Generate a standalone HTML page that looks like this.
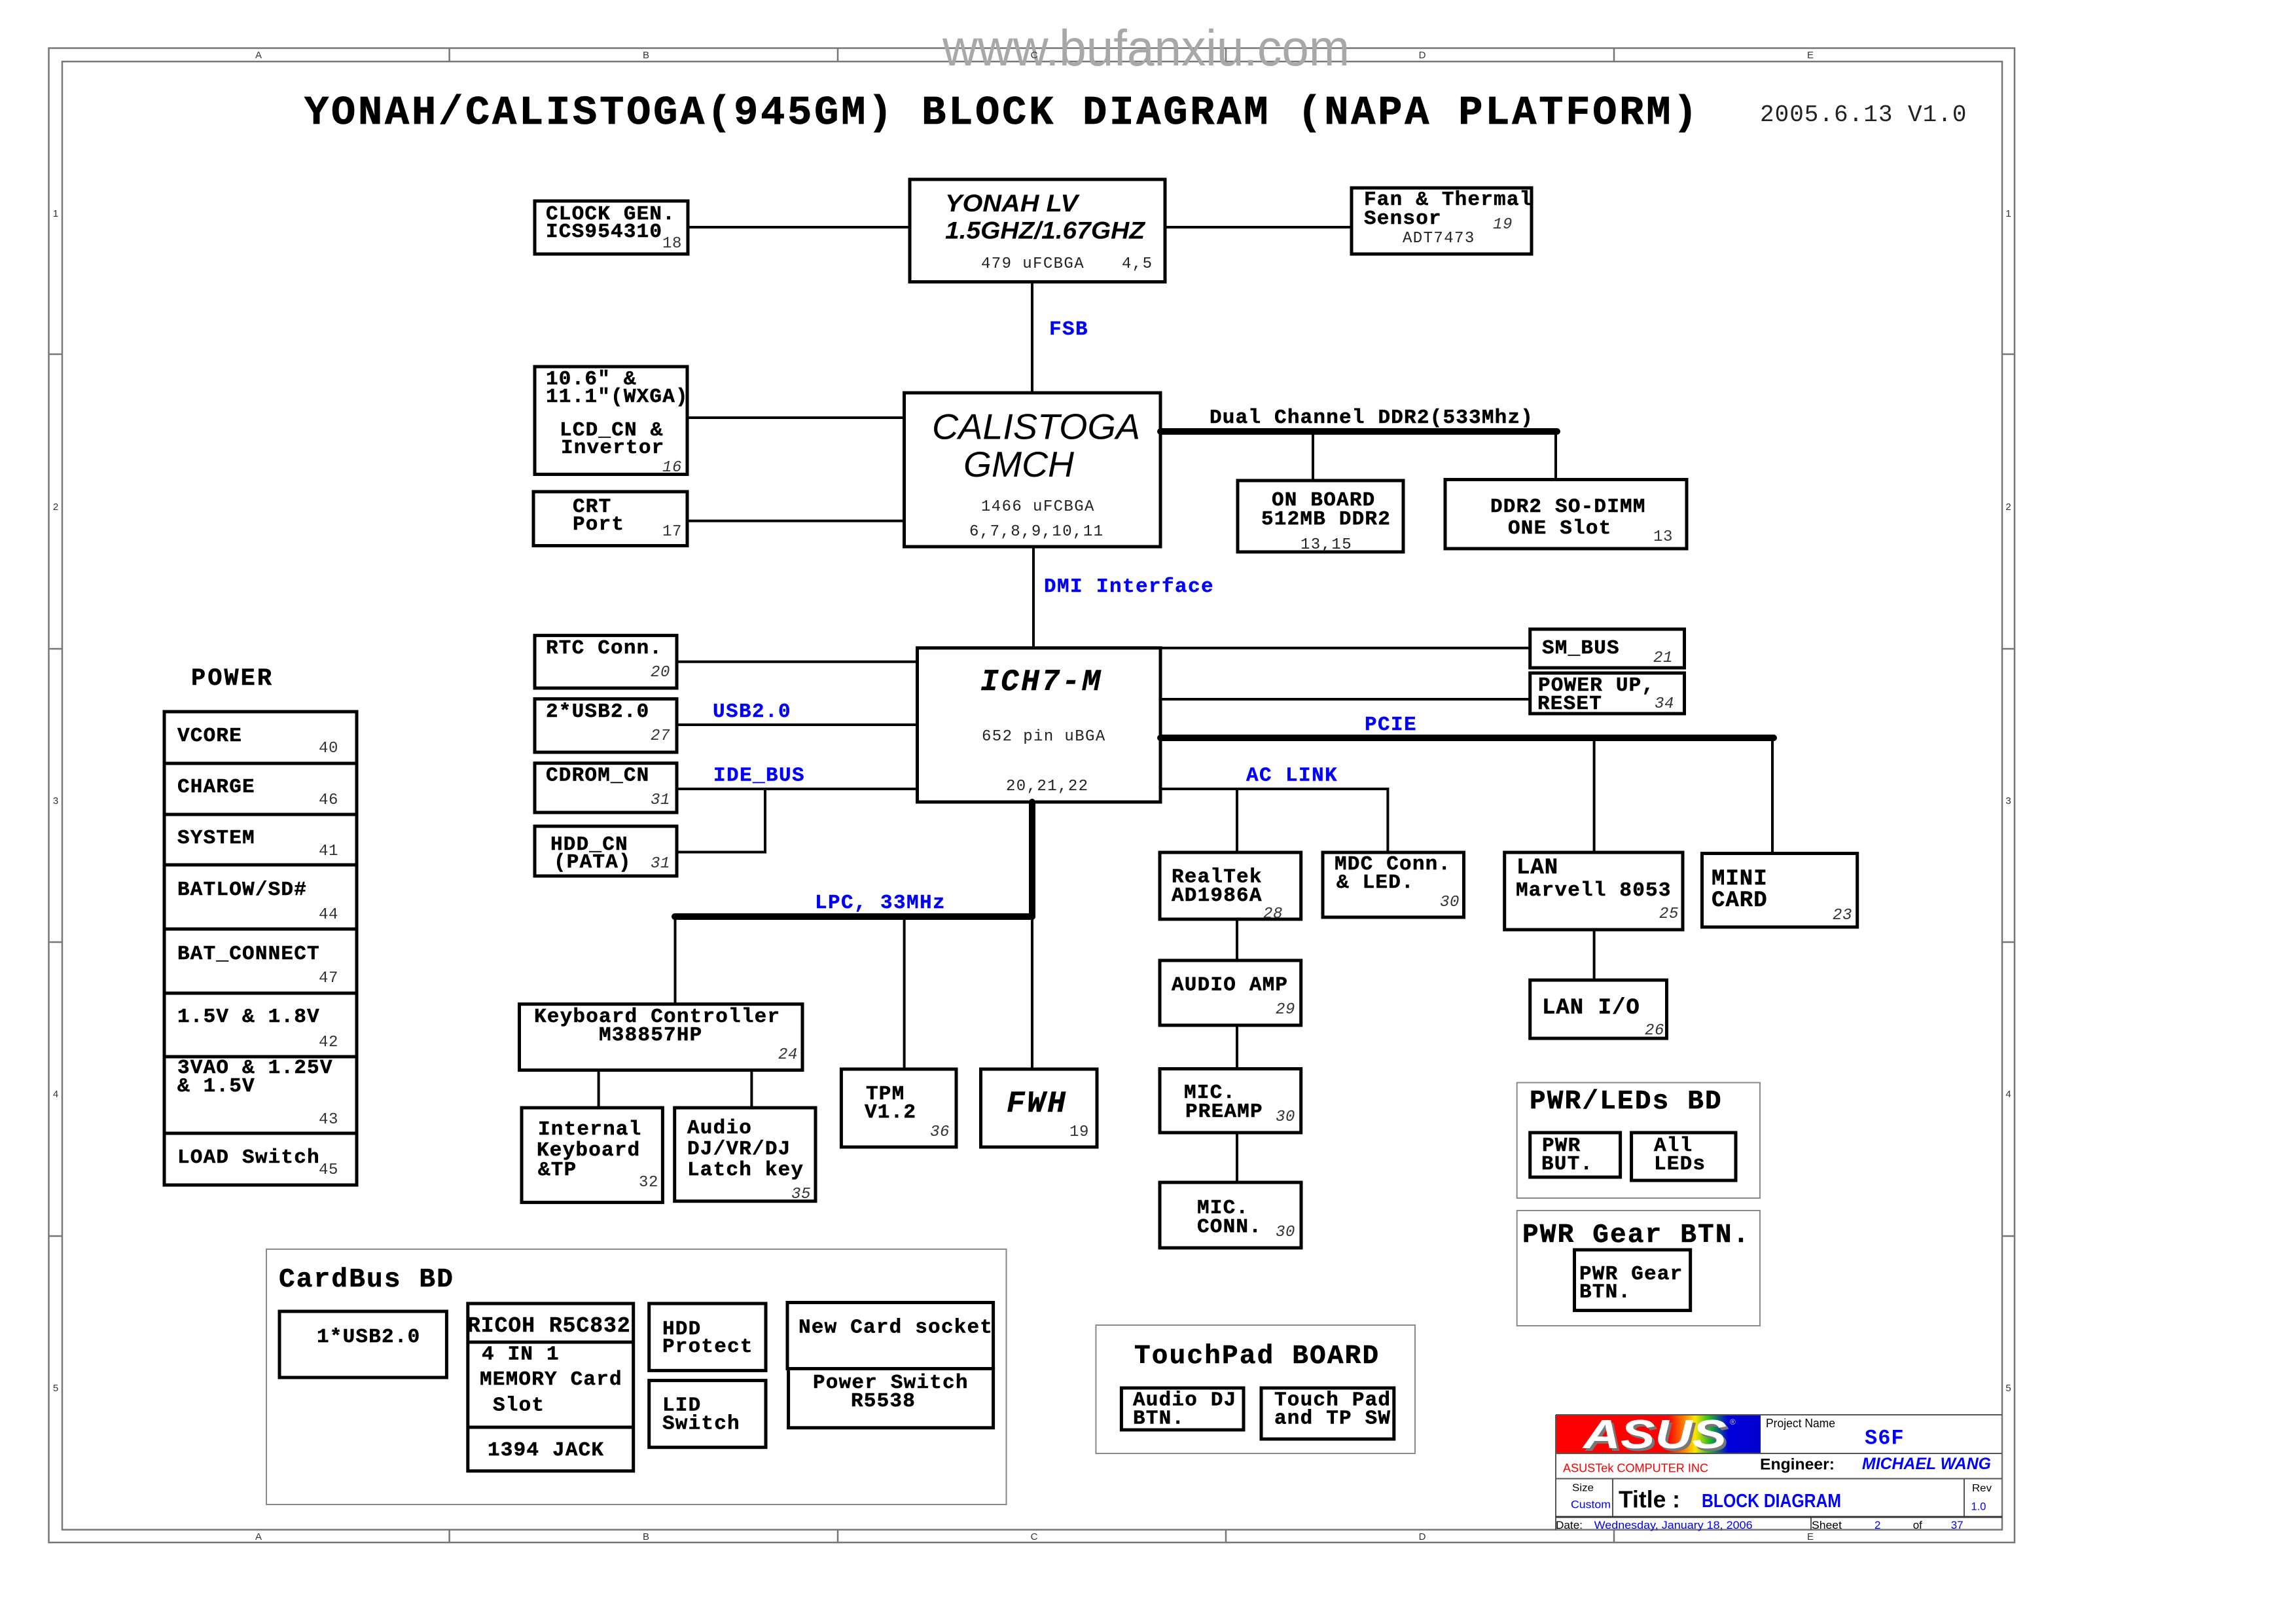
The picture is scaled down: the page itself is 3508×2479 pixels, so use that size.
<!DOCTYPE html>
<html>
<head>
<meta charset="utf-8">
<style>
html,body{margin:0;padding:0;background:#fff;}
svg{display:block;}
.t{font-family:"Liberation Mono",monospace;font-weight:bold;font-size:31px;letter-spacing:1.2px;fill:#000;stroke:#000;stroke-width:0.5px;}
.t2{font-family:"Liberation Mono",monospace;font-weight:bold;font-size:34px;letter-spacing:1px;fill:#000;stroke:#000;stroke-width:0.5px;}
.r33{font-family:"Liberation Mono",monospace;font-weight:bold;font-size:33px;letter-spacing:1px;fill:#000;stroke:#000;stroke-width:0.5px;}
.sm{font-family:"Liberation Mono",monospace;font-size:24px;letter-spacing:1.4px;fill:#222;}
.pg{font-family:"Liberation Mono",monospace;font-size:24px;letter-spacing:0.6px;fill:#333;}
.pgi{font-family:"Liberation Mono",monospace;font-style:italic;font-size:24px;letter-spacing:0.6px;fill:#333;}
.bl{font-family:"Liberation Mono",monospace;font-weight:bold;font-size:31px;letter-spacing:1.4px;fill:#0000ff;stroke:#0000ff;stroke-width:0.4px;}
.grp{font-family:"Liberation Mono",monospace;font-weight:bold;font-size:41px;letter-spacing:2.2px;fill:#000;stroke:#000;stroke-width:0.6px;}
.ttl{font-family:"Liberation Mono",monospace;font-weight:bold;font-size:62px;letter-spacing:3.8px;fill:#000;stroke:#000;stroke-width:0.8px;}
.bi{font-family:"Liberation Mono",monospace;font-weight:bold;font-style:italic;font-size:46px;letter-spacing:3.5px;fill:#000;stroke:#000;stroke-width:0.5px;}
.lab{font-family:"Liberation Sans",sans-serif;font-size:15px;fill:#333;text-anchor:middle;}
.sans{font-family:"Liberation Sans",sans-serif;}
</style>
</head>
<body>
<svg width="3508" height="2479" viewBox="0 0 3508 2479" xmlns="http://www.w3.org/2000/svg">
<defs>
<linearGradient id="lg" x1="0" x2="1" y1="0" y2="0">
<stop offset="0" stop-color="#ff0000"/>
<stop offset="0.55" stop-color="#ff0000"/>
<stop offset="0.63" stop-color="#ff8800"/>
<stop offset="0.68" stop-color="#ffe600"/>
<stop offset="0.75" stop-color="#22bb22"/>
<stop offset="0.84" stop-color="#0000dd"/>
<stop offset="1" stop-color="#0000cc"/>
</linearGradient>
</defs>
<rect x="0" y="0" width="3508" height="2479" fill="#fff"/>

<!-- Frame -->
<g stroke="#777" stroke-width="2.5" fill="none">
<rect x="74.5" y="73.5" width="3003.5" height="2282.5"/>
<rect x="95" y="94" width="2964" height="2242.5"/>
<line x1="686.6" y1="73.5" x2="686.6" y2="94"/>
<line x1="1280" y1="73.5" x2="1280" y2="94"/>
<line x1="1873" y1="73.5" x2="1873" y2="94"/>
<line x1="2466" y1="73.5" x2="2466" y2="94"/>
<line x1="686.6" y1="2336.5" x2="686.6" y2="2356"/>
<line x1="1280" y1="2336.5" x2="1280" y2="2356"/>
<line x1="1873" y1="2336.5" x2="1873" y2="2356"/>
<line x1="2466" y1="2336.5" x2="2466" y2="2356"/>
<line x1="74.5" y1="541" x2="95" y2="541"/>
<line x1="74.5" y1="991" x2="95" y2="991"/>
<line x1="74.5" y1="1439" x2="95" y2="1439"/>
<line x1="74.5" y1="1888" x2="95" y2="1888"/>
<line x1="3059" y1="541" x2="3078" y2="541"/>
<line x1="3059" y1="991" x2="3078" y2="991"/>
<line x1="3059" y1="1439" x2="3078" y2="1439"/>
<line x1="3059" y1="1888" x2="3078" y2="1888"/>
</g>

<!-- watermark -->
<text x="1440" y="100" class="sans" font-size="78" fill="#a8a8a8" textLength="622" lengthAdjust="spacingAndGlyphs">www.bufanxiu.com</text>

<!-- column/row labels -->
<g class="lab">
<text x="395" y="89">A</text><text x="987" y="89">B</text><text x="1580" y="89">C</text><text x="2173" y="89">D</text><text x="2766" y="89">E</text>
<text x="395" y="2352">A</text><text x="987" y="2352">B</text><text x="1580" y="2352">C</text><text x="2173" y="2352">D</text><text x="2766" y="2352">E</text>
<text x="85" y="331">1</text><text x="85" y="779">2</text><text x="85" y="1228">3</text><text x="85" y="1676">4</text><text x="85" y="2125">5</text>
<text x="3068.5" y="331">1</text><text x="3068.5" y="779">2</text><text x="3068.5" y="1228">3</text><text x="3068.5" y="1676">4</text><text x="3068.5" y="2125">5</text>
</g>

<!-- Title -->
<text x="465" y="189" class="ttl">YONAH/CALISTOGA(945GM) BLOCK DIAGRAM (NAPA PLATFORM)</text>
<text x="2689" y="185" font-family="Liberation Mono, monospace" font-size="36" letter-spacing="1" fill="#222">2005.6.13 V1.0</text>

<!-- Connector lines (thin) -->
<g stroke="#000" stroke-width="4" fill="none">
<line x1="1051" y1="347" x2="1390" y2="347"/>
<line x1="1780" y1="347" x2="2065" y2="347"/>
<line x1="1577" y1="430.5" x2="1577" y2="600"/>
<line x1="1050" y1="638" x2="1381.5" y2="638"/>
<line x1="1050" y1="795.6" x2="1381.5" y2="795.6"/>
<line x1="2006" y1="659" x2="2006" y2="734"/>
<line x1="2377" y1="659" x2="2377" y2="732.5"/>
<line x1="1579" y1="835" x2="1579" y2="989.7"/>
<line x1="1034" y1="1010.7" x2="1401.5" y2="1010.7"/>
<line x1="1034" y1="1107" x2="1401.5" y2="1107"/>
<line x1="1034" y1="1205" x2="1401.5" y2="1205"/>
<polyline points="1034,1301.5 1169,1301.5 1169,1205"/>
<line x1="1031.5" y1="1400" x2="1031.5" y2="1533.7"/>
<line x1="914.6" y1="1634.5" x2="914.6" y2="1692"/>
<line x1="1148.4" y1="1634.5" x2="1148.4" y2="1692"/>
<line x1="1381.6" y1="1400" x2="1381.6" y2="1633"/>
<line x1="1577" y1="1400" x2="1577" y2="1633"/>
<line x1="1773" y1="989.7" x2="2337.7" y2="989.7"/>
<line x1="1773" y1="1068" x2="2337.7" y2="1068"/>
<polyline points="1773,1205 2120.4,1205 2120.4,1302"/>
<line x1="1890" y1="1205" x2="1890" y2="1302"/>
<line x1="1890" y1="1404" x2="1890" y2="1467"/>
<line x1="1890" y1="1566" x2="1890" y2="1632.5"/>
<line x1="1890" y1="1730" x2="1890" y2="1806"/>
<line x1="2435.6" y1="1127" x2="2435.6" y2="1302"/>
<line x1="2708" y1="1127" x2="2708" y2="1303.5"/>
<line x1="2435.6" y1="1420" x2="2435.6" y2="1497"/>
</g>

<!-- Thick buses -->
<g stroke="#000" stroke-width="10" stroke-linecap="round" fill="none">
<line x1="1773" y1="659" x2="2379" y2="659"/>
<line x1="1773" y1="1127" x2="2710" y2="1127"/>
<line x1="1031" y1="1400" x2="1577" y2="1400"/>
<line x1="1577" y1="1225" x2="1577" y2="1400"/>
</g>

<!-- Boxes -->
<g stroke="#000" stroke-width="5" fill="none">
<rect x="817" y="307" width="234" height="81"/>
<rect x="1390" y="274" width="390" height="156.5"/>
<rect x="2065" y="287" width="275" height="101"/>
<rect x="817" y="560" width="233" height="164.5"/>
<rect x="815" y="751" width="235" height="82.5"/>
<rect x="1381.5" y="600" width="391.5" height="235"/>
<rect x="1891" y="734" width="253" height="109"/>
<rect x="2208" y="732.5" width="369" height="105.5"/>
<rect x="1401.5" y="989.7" width="371.5" height="235.3"/>
<rect x="817" y="970.6" width="217" height="80.4"/>
<rect x="817" y="1067.5" width="217" height="81.5"/>
<rect x="817" y="1165.7" width="217" height="75.3"/>
<rect x="817" y="1262" width="217" height="76"/>
<rect x="793.5" y="1533.7" width="432.5" height="100.8"/>
<rect x="797" y="1692" width="215.4" height="144.6"/>
<rect x="1030.7" y="1692" width="215.3" height="142.7"/>
<rect x="1285.4" y="1633" width="175.6" height="119"/>
<rect x="1498.5" y="1633" width="177.5" height="119"/>
<rect x="2337.7" y="961" width="235.8" height="59"/>
<rect x="2337.7" y="1028" width="235.8" height="62"/>
<rect x="1772" y="1302" width="215.7" height="102"/>
<rect x="2021" y="1302" width="215.5" height="99"/>
<rect x="1772" y="1467" width="215.7" height="99"/>
<rect x="1772" y="1632.5" width="215.7" height="97.5"/>
<rect x="1772" y="1806" width="216" height="100"/>
<rect x="2298.7" y="1302" width="272.3" height="118"/>
<rect x="2600.5" y="1303.5" width="237.2" height="112.5"/>
<rect x="2337.7" y="1497" width="208.8" height="89"/>
<rect x="2337.7" y="1730" width="137.9" height="68"/>
<rect x="2492.6" y="1730" width="159.4" height="73"/>
<rect x="2405.5" y="1909" width="177.2" height="92.6"/>
<!-- power table -->
<rect x="251" y="1087" width="294" height="723"/>
<line x1="251" y1="1166" x2="545" y2="1166"/>
<line x1="251" y1="1244" x2="545" y2="1244"/>
<line x1="251" y1="1321" x2="545" y2="1321"/>
<line x1="251" y1="1419" x2="545" y2="1419"/>
<line x1="251" y1="1517" x2="545" y2="1517"/>
<line x1="251" y1="1614" x2="545" y2="1614"/>
<line x1="251" y1="1731" x2="545" y2="1731"/>
<!-- cardbus -->
<rect x="427" y="2003" width="255.4" height="101"/>
<rect x="714.8" y="1991" width="252.9" height="255.8"/>
<line x1="714.8" y1="2050" x2="967.7" y2="2050"/>
<line x1="714.8" y1="2180" x2="967.7" y2="2180"/>
<rect x="991.7" y="1991" width="178.3" height="102.4"/>
<rect x="991.7" y="2108.6" width="178.3" height="102.1"/>
<rect x="1203" y="1989.5" width="314.6" height="101"/>
<rect x="1204.6" y="2090.5" width="313" height="90.3"/>
<!-- touchpad -->
<rect x="1713.4" y="2120" width="186.6" height="64"/>
<rect x="1927" y="2120" width="202.8" height="78"/>
</g>

<!-- Group boxes (thin gray) -->
<g stroke="#8a8a8a" stroke-width="2" fill="none">
<rect x="2317.7" y="1653.6" width="371.3" height="176.4"/>
<rect x="2317.7" y="1849" width="371.3" height="176"/>
<rect x="407" y="1908" width="1130.5" height="390"/>
<rect x="1674.4" y="2024" width="487.6" height="196"/>
</g>

<!-- Texts: top area -->
<text x="834" y="335" class="t">CLOCK GEN.</text>
<text x="834" y="362" class="t">ICS954310</text>
<text x="1012" y="378" class="pg">18</text>

<text x="1444" y="323" class="sans" font-size="37" font-weight="bold" font-style="italic" textLength="203" lengthAdjust="spacingAndGlyphs">YONAH LV</text>
<text x="1444" y="364.5" class="sans" font-size="37" font-weight="bold" font-style="italic" textLength="305" lengthAdjust="spacingAndGlyphs">1.5GHZ/1.67GHZ</text>
<text x="1499" y="409" class="sm">479 uFCBGA</text>
<text x="1714" y="409" class="sm">4,5</text>

<text x="2084" y="313" class="t">Fan &amp; Thermal</text>
<text x="2084" y="342" class="t">Sensor</text>
<text x="2281" y="349" class="pgi">19</text>
<text x="2143" y="370" class="sm">ADT7473</text>

<text x="1603" y="511" class="bl">FSB</text>

<text x="834" y="587" class="t">10.6" &amp;</text>
<text x="834" y="614" class="t">11.1"(WXGA)</text>
<text x="855" y="665" class="t">LCD_CN &amp;</text>
<text x="857" y="692" class="t">Invertor</text>
<text x="1012" y="720" class="pgi">16</text>

<text x="875" y="782" class="t">CRT</text>
<text x="875" y="809" class="t">Port</text>
<text x="1012" y="818" class="pg">17</text>

<text x="1424" y="670.5" class="sans" font-size="55" font-style="italic" textLength="318" lengthAdjust="spacingAndGlyphs">CALISTOGA</text>
<text x="1472" y="728" class="sans" font-size="55" font-style="italic" textLength="169" lengthAdjust="spacingAndGlyphs">GMCH</text>
<text x="1499" y="780" class="sm">1466 uFCBGA</text>
<text x="1481" y="818" class="sm">6,7,8,9,10,11</text>

<text x="1848" y="646" class="t">Dual Channel DDR2(533Mhz)</text>
<text x="1943" y="772" class="t">ON BOARD</text>
<text x="1927" y="801" class="t">512MB DDR2</text>
<text x="1987" y="838" class="sm">13,15</text>
<text x="2277" y="782" class="t">DDR2 SO-DIMM</text>
<text x="2304" y="815" class="t">ONE Slot</text>
<text x="2526" y="826" class="pg">13</text>

<text x="1595" y="904" class="bl" letter-spacing="2">DMI Interface</text>

<!-- ICH -->
<text x="1498" y="1054" class="bi">ICH7-M</text>
<text x="1500" y="1131" class="sm">652 pin uBGA</text>
<text x="1537" y="1207" class="sm">20,21,22</text>

<text x="834" y="998" class="t">RTC Conn.</text>
<text x="994" y="1033" class="pgi">20</text>
<text x="834" y="1095" class="t">2*USB2.0</text>
<text x="994" y="1130" class="pgi">27</text>
<text x="1089" y="1095" class="bl">USB2.0</text>
<text x="834" y="1192.5" class="t">CDROM_CN</text>
<text x="994" y="1228" class="pgi">31</text>
<text x="1090" y="1192.5" class="bl">IDE_BUS</text>
<text x="841" y="1298" class="t">HDD_CN</text>
<text x="846" y="1325" class="t">(PATA)</text>
<text x="994" y="1325" class="pgi">31</text>

<text x="1245" y="1387" class="bl">LPC, 33MHz</text>

<text x="816" y="1561" class="t">Keyboard Controller</text>
<text x="915" y="1589" class="t">M38857HP</text>
<text x="1189" y="1617" class="pgi">24</text>

<text x="822" y="1733" class="t">Internal</text>
<text x="820" y="1765" class="t">Keyboard</text>
<text x="822" y="1795" class="t">&amp;TP</text>
<text x="976" y="1812" class="pg">32</text>

<text x="1050" y="1731" class="t">Audio</text>
<text x="1050" y="1763" class="t">DJ/VR/DJ</text>
<text x="1050" y="1795" class="t">Latch key</text>
<text x="1209" y="1830" class="pgi">35</text>

<text x="1323" y="1679" class="t">TPM</text>
<text x="1321" y="1707" class="t">V1.2</text>
<text x="1421" y="1735" class="pgi">36</text>

<text x="1538" y="1698" class="bi" font-size="44" letter-spacing="4">FWH</text>
<text x="1634" y="1735" class="pg">19</text>

<text x="2356" y="998" class="t">SM_BUS</text>
<text x="2526" y="1011" class="pgi">21</text>
<text x="2350" y="1055" class="t">POWER UP,</text>
<text x="2349" y="1083" class="t">RESET</text>
<text x="2528" y="1081" class="pgi">34</text>

<text x="2085" y="1115" class="bl">PCIE</text>
<text x="1904" y="1192.5" class="bl">AC LINK</text>

<text x="1790" y="1347.5" class="t">RealTek</text>
<text x="1790" y="1376" class="t">AD1986A</text>
<text x="1930" y="1402" class="pgi">28</text>

<text x="2039" y="1328" class="t">MDC Conn.</text>
<text x="2042" y="1356" class="t">&amp; LED.</text>
<text x="2200" y="1384" class="pgi">30</text>

<text x="1790" y="1512.6" class="t">AUDIO AMP</text>
<text x="1949" y="1548" class="pgi">29</text>

<text x="1809" y="1677" class="t">MIC.</text>
<text x="1811" y="1706" class="t">PREAMP</text>
<text x="1949" y="1712" class="pgi">30</text>

<text x="1829" y="1853" class="t">MIC.</text>
<text x="1829" y="1882" class="t">CONN.</text>
<text x="1949" y="1888" class="pgi">30</text>

<text x="2317" y="1334" class="t2">LAN</text>
<text x="2316" y="1368" class="t">Marvell 8053</text>
<text x="2535" y="1402" class="pgi">25</text>

<text x="2615" y="1351" class="t2">MINI</text>
<text x="2615" y="1384" class="t2">CARD</text>
<text x="2800" y="1404" class="pgi">23</text>

<text x="2356" y="1548" class="t2" letter-spacing="0.6">LAN I/O</text>
<text x="2513" y="1580" class="pgi">26</text>

<text x="2337" y="1693" class="grp">PWR/LEDs BD</text>
<text x="2356" y="1758" class="t">PWR</text>
<text x="2355" y="1786" class="t">BUT.</text>
<text x="2527" y="1758" class="t">All</text>
<text x="2527" y="1786" class="t">LEDs</text>

<text x="2326" y="1897" class="grp">PWR Gear BTN.</text>
<text x="2413" y="1954" class="t">PWR Gear</text>
<text x="2413" y="1981.5" class="t">BTN.</text>

<!-- POWER table -->
<text x="292" y="1046" font-family="Liberation Mono, monospace" font-weight="bold" font-size="37" letter-spacing="3" fill="#000" stroke="#000" stroke-width="0.5">POWER</text>
<text x="271" y="1132" class="t">VCORE</text><text x="487" y="1149" class="pg">40</text>
<text x="271" y="1210" class="t">CHARGE</text><text x="487" y="1228" class="pg">46</text>
<text x="271" y="1288" class="t">SYSTEM</text><text x="487" y="1306" class="pg">41</text>
<text x="271" y="1367" class="t">BATLOW/SD#</text><text x="487" y="1403" class="pg">44</text>
<text x="271" y="1465" class="t">BAT_CONNECT</text><text x="487" y="1500" class="pg">47</text>
<text x="271" y="1561" class="t">1.5V &amp; 1.8V</text><text x="487" y="1598" class="pg">42</text>
<text x="271" y="1639" class="t">3VAO &amp; 1.25V</text>
<text x="271" y="1667" class="t">&amp; 1.5V</text><text x="487" y="1716" class="pg">43</text>
<text x="271" y="1776" class="t">LOAD Switch</text><text x="487" y="1793" class="pg">45</text>

<!-- CardBus -->
<text x="426" y="1965" class="grp">CardBus BD</text>
<text x="484" y="2050" class="t">1*USB2.0</text>
<text x="714" y="2034" class="r33">RICOH R5C832</text>
<text x="736" y="2076.5" class="t">4 IN 1</text>
<text x="733" y="2115" class="t">MEMORY Card</text>
<text x="753" y="2154.5" class="t">Slot</text>
<text x="745" y="2223" class="t">1394 JACK</text>
<text x="1012" y="2038" class="t">HDD</text>
<text x="1012" y="2065" class="t">Protect</text>
<text x="1012" y="2154.5" class="t">LID</text>
<text x="1012" y="2182.6" class="t">Switch</text>
<text x="1220" y="2035.5" class="t">New Card socket</text>
<text x="1242" y="2120" class="t">Power Switch</text>
<text x="1300" y="2148" class="t">R5538</text>

<!-- TouchPad -->
<text x="1733" y="2082" class="grp">TouchPad BOARD</text>
<text x="1731" y="2146.5" class="t">Audio DJ</text>
<text x="1731" y="2174.6" class="t">BTN.</text>
<text x="1947" y="2146.5" class="t">Touch Pad</text>
<text x="1947" y="2174.6" class="t">and TP SW</text>

<!-- Title block -->
<rect x="2377" y="2161" width="313" height="59" fill="url(#lg)"/>
<text x="2423" y="2216" class="sans" font-size="62" font-weight="bold" font-style="italic" fill="#777" textLength="219" lengthAdjust="spacingAndGlyphs">ASUS</text>
<text x="2419" y="2212" class="sans" font-size="62" font-weight="bold" font-style="italic" fill="#fff" textLength="219" lengthAdjust="spacingAndGlyphs">ASUS</text>
<text x="2643" y="2176" class="sans" font-size="12" fill="#ccc">®</text>
<g stroke="#555" stroke-width="2" fill="none">
<line x1="2377" y1="2161" x2="3059" y2="2161"/>
<line x1="2377" y1="2161" x2="2377" y2="2337"/>
<line x1="2377" y1="2220" x2="3059" y2="2220"/>
<line x1="2377" y1="2258.5" x2="3059" y2="2258.5"/>
<line x1="2464" y1="2258.5" x2="2464" y2="2317"/>
<line x1="3001" y1="2258.5" x2="3001" y2="2317"/>
<line x1="2767" y1="2317" x2="2767" y2="2337"/>
</g>
<line x1="2377" y1="2317" x2="3059" y2="2317" stroke="#333" stroke-width="3"/>
<text x="2698" y="2180" class="sans" font-size="18" fill="#000" textLength="106" lengthAdjust="spacingAndGlyphs">Project Name</text>
<text x="2849" y="2205.6" font-family="Liberation Mono, monospace" font-weight="bold" font-size="32" letter-spacing="1" fill="#0000ff">S6F</text>
<text x="2388" y="2248.4" class="sans" font-size="18" fill="#ff0000" textLength="222" lengthAdjust="spacingAndGlyphs">ASUSTek COMPUTER INC</text>
<text x="2689" y="2244.4" class="sans" font-size="24" font-weight="bold" fill="#000" textLength="114" lengthAdjust="spacingAndGlyphs">Engineer:</text>
<text x="2845" y="2244" class="sans" font-size="25" font-weight="bold" font-style="italic" fill="#0000ff" textLength="197" lengthAdjust="spacingAndGlyphs">MICHAEL WANG</text>
<text x="2402" y="2277.4" class="sans" font-size="16" fill="#000" textLength="33" lengthAdjust="spacingAndGlyphs">Size</text>
<text x="2400" y="2303.4" class="sans" font-size="17" fill="#0000ff" textLength="61" lengthAdjust="spacingAndGlyphs">Custom</text>
<text x="2473" y="2302.3" class="sans" font-size="36" font-weight="bold" fill="#000" textLength="94" lengthAdjust="spacingAndGlyphs">Title :</text>
<text x="2600" y="2302" class="sans" font-size="29" font-weight="bold" fill="#0000ff" textLength="213" lengthAdjust="spacingAndGlyphs">BLOCK DIAGRAM</text>
<text x="3013" y="2278" class="sans" font-size="16" fill="#000" textLength="30" lengthAdjust="spacingAndGlyphs">Rev</text>
<text x="3011.5" y="2306.7" class="sans" font-size="17" fill="#0000ff" textLength="23" lengthAdjust="spacingAndGlyphs">1.0</text>
<text x="2377" y="2335" class="sans" font-size="17" fill="#000" textLength="41" lengthAdjust="spacingAndGlyphs">Date:</text>
<text x="2435.6" y="2335" class="sans" font-size="17" fill="#0000ff" textLength="242" lengthAdjust="spacingAndGlyphs">Wednesday, January 18, 2006</text>
<text x="2768" y="2335" class="sans" font-size="17" fill="#000" textLength="46" lengthAdjust="spacingAndGlyphs">Sheet</text>
<text x="2864" y="2335" class="sans" font-size="17" fill="#0000ff">2</text>
<text x="2922.7" y="2335" class="sans" font-size="17" fill="#000">of</text>
<text x="2980.7" y="2335" class="sans" font-size="17" fill="#0000ff">37</text>
</svg>
</body>
</html>
